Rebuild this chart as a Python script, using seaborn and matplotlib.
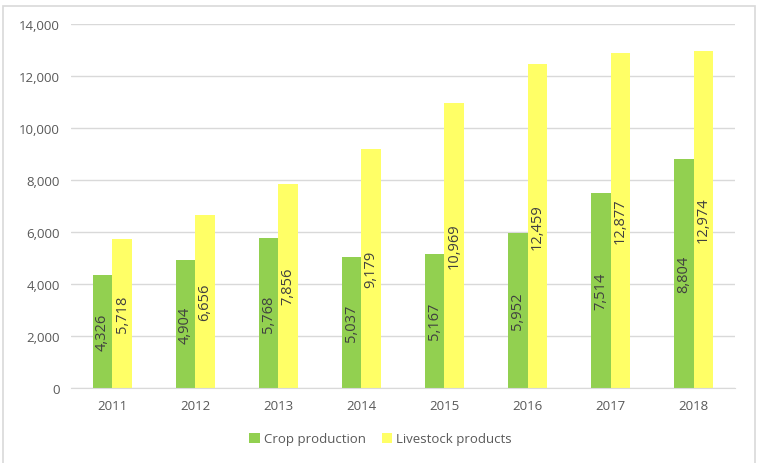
import numpy as np
import pandas as pd
import matplotlib
matplotlib.use("Agg")
import matplotlib.pyplot as plt
import seaborn as sns
from matplotlib.patches import Rectangle

years = ["2011", "2012", "2013", "2014", "2015", "2016", "2017", "2018"]
crop = [4326, 4904, 5768, 5037, 5167, 5952, 7514, 8804]
livestock = [5718, 6656, 7856, 9179, 10969, 12459, 12877, 12974]
series = ["Crop production", "Livestock products"]

df = pd.DataFrame({
    "year": years * 2,
    "value": crop + livestock,
    "series": [series[0]] * len(years) + [series[1]] * len(years),
})

sns.set_style("white")
plt.rcParams["font.family"] = ["Open Sans", "DejaVu Sans"]
txt = "#595959"

fig = plt.figure(figsize=(7.61, 4.64), dpi=100)
ax = fig.add_axes([0.093, 0.162, 0.873, 0.784])

sns.barplot(data=df, x="year", y="value", hue="series",
            palette=["#92D050", "#FFFF66"], width=0.47, ax=ax,
            saturation=1, legend=True, linewidth=0, gap=0)

for cont in ax.containers:
    ax.bar_label(cont, labels=[f"{v:,.0f}" for v in cont.datavalues],
                 label_type="center", rotation=90, fontsize=10.5, color="#404040")

ax.set_ylim(0, 14000)
ax.set_yticks(range(0, 14001, 2000))
ax.yaxis.set_major_formatter(matplotlib.ticker.FuncFormatter(lambda v, p: f"{v:,.0f}"))
ax.grid(axis="y", color="#D9D9D9", linewidth=1)
ax.set_axisbelow(True)
for s in ["top", "right", "left"]:
    ax.spines[s].set_visible(False)
ax.spines["bottom"].set_color("#D9D9D9")
ax.tick_params(axis="both", length=0, labelsize=9.5, labelcolor=txt, pad=8)
ax.set_xlabel("")
ax.set_ylabel("")

handles, labels = ax.get_legend_handles_labels()
ax.legend_.remove()
fig.legend(handles, labels, loc="center", bbox_to_anchor=(0.5, 0.052), ncol=2,
           frameon=False, fontsize=9.5, labelcolor=txt, handlelength=0.8,
           handleheight=0.8, handletextpad=0.3, columnspacing=1.2)

fig.patches.append(Rectangle((0.004, -0.01), 0.988, 0.995, transform=fig.transFigure,
                             fill=False, edgecolor="#D9D9D9", linewidth=1.2))

fig.savefig("out.png", dpi=100)
